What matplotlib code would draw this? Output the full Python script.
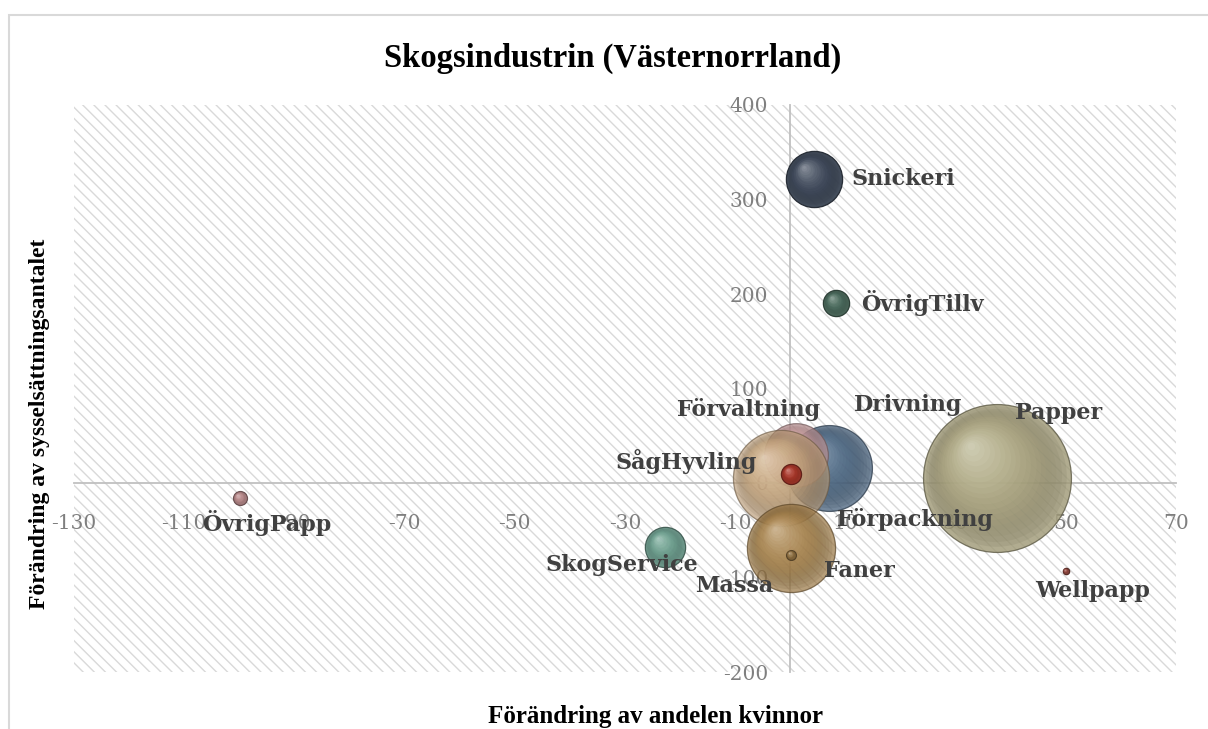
import numpy as np
import matplotlib
matplotlib.use("Agg")
import matplotlib.pyplot as plt
from matplotlib.colors import to_rgb
from matplotlib.patches import Rectangle
from matplotlib.transforms import offset_copy

# data
branscher = ["Papper", "Drivning", "Förvaltning", "SågHyvling", "Förpackning", "Massa",
             "Faner", "Snickeri", "ÖvrigTillv", "SkogService", "ÖvrigPapp", "Wellpapp"]
andel_kvinnor = [37.6, 7.1, 1.1, -1.6, 0.1, 0.1, 0.1, 4.3, 8.3, -22.7, -99.9, 50.0]
syssels = [5.3, 15.9, 29.6, 5.3, 9.5, -68.8, -76.0, 321.7, 190.5, -67.7, -15.9, -93.0]
antal = [2700, 910, 500, 1140, 50, 960, 12, 390, 85, 200, 24, 5]

farger = ["#bab38a", "#52708f", "#dba9ab", "#d6b286", "#b8392c", "#b38a4e",
          "#9c7a48", "#445062", "#507363", "#74ab9a", "#c99597", "#a24e44"]
alfa = [0.8, 0.75, 0.7, 0.65, 0.95, 0.7, 0.9, 0.95, 0.95, 0.9, 0.95, 0.95]
# label offsets in pixels (dx, dy) relative to bubble centre
etikett_dx = [61, 79, -48, -95, 124, -57, 69, 38, 25, -43, 27, 27]
etikett_dy = [65, 63, 46, 16, -45, -38, -16, 0, 0, -18, -25, -20]
etikett_ha = ["center", "center", "center", "center", "center", "center", "center",
              "left", "left", "center", "center", "center"]

xticks = list(range(-130, 71, 20))
yticks = list(range(-200, 401, 100))

plt.rcParams["axes.unicode_minus"] = False
plt.rcParams["hatch.linewidth"] = 1.0

fig = plt.figure(figsize=(12.08, 7.29), dpi=100)
ax = fig.add_axes([74/1208, 1-672/729, 1102/1208, 567/729])

# outer chart border
fig.patches.append(Rectangle((9/1208, -0.1), 1.2, 1 - 15/729 + 0.1, transform=fig.transFigure,
                             fill=False, edgecolor="#d9d9d9", linewidth=1.5, zorder=0))

ax.add_patch(Rectangle((0, 0), 1, 1, transform=ax.transAxes, facecolor="white",
                       edgecolor="#d9d9d9", hatch="\\\\\\", linewidth=0, zorder=0))

ax.set_xlim(-130, 70)
ax.set_ylim(-200, 400)


def blend(c1, c2, t):
    return tuple(np.array(c1) * (1 - t) + np.array(c2) * t)


def klot(x, y, storlek, farg, a, z):
    bas = to_rgb(farg)
    mork = tuple(np.array(bas) * 0.5)
    ljus = blend(bas, (1, 1, 1), 0.65)
    s = storlek * 4.2
    d = np.sqrt(s)
    ax.scatter([x], [y], s=s, color=blend(bas, mork, 0.3), alpha=a, edgecolor=mork,
               linewidth=0.9, zorder=z)
    n = 20
    for i in range(1, n):
        f = 1 - i / n
        off = (1 - f) * d / 2 * 0.45
        tr = offset_copy(ax.transData, fig=fig, x=-off * 0.85, y=off, units="points")
        if i < 6:
            c = blend(mork, bas, i / 6)
        else:
            c = blend(bas, ljus, (i - 6) / (n - 7))
        ax.scatter([x], [y], s=s * f * f, color=c, alpha=0.14, linewidth=0, transform=tr,
                   zorder=z)


for i in range(len(branscher)):
    klot(andel_kvinnor[i], syssels[i], antal[i], farger[i], alfa[i], 3 + i)
    ax.annotate(branscher[i], (andel_kvinnor[i], syssels[i]),
                xytext=(etikett_dx[i] * 0.72, etikett_dy[i] * 0.72), textcoords="offset points",
                ha=etikett_ha[i], va="center", fontsize=16, fontweight="bold",
                family="DejaVu Serif", color="#404040", zorder=30)

for side in ["top", "right"]:
    ax.spines[side].set_visible(False)
ax.spines["left"].set_position(("data", 0))
ax.spines["bottom"].set_position(("data", 0))
for side in ["left", "bottom"]:
    ax.spines[side].set_color("#c0c0c0")
    ax.spines[side].set_linewidth(1.3)
    ax.spines[side].set_zorder(2)

ax.set_xticks(xticks)
ax.set_yticks(yticks)
ax.tick_params(length=0, labelsize=14.5, labelcolor="#7f7f7f")
ax.tick_params(axis="x", pad=22)
ax.tick_params(axis="y", pad=16)
for lab in ax.get_xticklabels() + ax.get_yticklabels():
    lab.set_family("DejaVu Serif")

fig.text(613/1208, 1 - 58/729, "Skogsindustrin (Västernorrland)", ha="center", va="center",
         fontsize=23.5, fontweight="bold", family="Liberation Serif")
fig.text(656/1208, 1 - 716/729, "Förändring av andelen kvinnor", ha="center", va="center",
         fontsize=18, fontweight="bold", family="Liberation Serif")
fig.text(40/1208, 1 - 424/729, "Förändring av sysselsättningsantalet", ha="center", va="center",
         rotation=90, fontsize=17, fontweight="bold", family="Liberation Serif")

fig.savefig("out.png", dpi=100)
